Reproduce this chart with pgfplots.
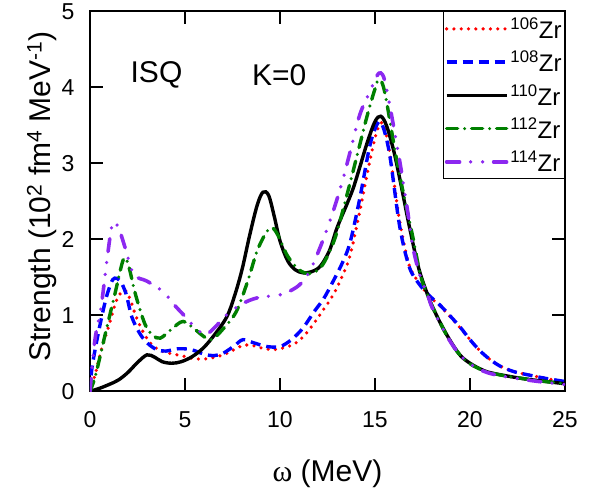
\documentclass[border=0pt]{standalone}
\usepackage{fontspec}
\setmainfont{Liberation Sans}
\newfontfamily\seriffont{Liberation Serif}
\usepackage{pgfplots}
\pgfplotsset{compat=1.18}

\definecolor{zrred}{RGB}{255,0,0}
\definecolor{zrblue}{RGB}{0,0,255}
\definecolor{zrgreen}{RGB}{0,128,0}
\definecolor{zrviolet}{RGB}{140,40,240}

\begin{document}
\begin{tikzpicture}
\begin{axis}[
    scale only axis,
    width=475pt, height=380pt,
    xmin=0, xmax=25,
    ymin=0, ymax=5,
    xtick={0,5,10,15,20,25},
    ytick={0,1,2,3,4,5},
    tick align=inside,
    major tick length=13pt,
    axis line style={line width=2pt},
    every tick/.style={black, line width=2pt},
    /pgf/number format/assume math mode=true,
    ticklabel style={font=\fontsize{23}{27}\selectfont},
    xticklabel style={yshift=-17pt},
    yticklabel style={xshift=-12pt},
    xlabel={{\seriffont ω} (MeV)},
    ylabel={Strength (10\textsuperscript{2} fm\textsuperscript{4} MeV\textsuperscript{-1})},
    label style={font=\fontsize{30}{36}\selectfont},
    xlabel style={at={(axis description cs:0.5,-0.216)}, anchor=center},
    ylabel style={at={(axis description cs:-0.101,0.513)}, anchor=center},
    legend style={at={(1,1)}, anchor=north east, draw=black, line width=0.8pt,
        font=\fontsize{24}{27}\selectfont, inner xsep=1pt, inner ysep=4pt,
        row sep=7pt, cells={anchor=west}},
    legend image code/.code={\draw[#1] (0pt,0pt) -- (60pt,0pt);},
    every axis plot/.append style={smooth, tension=0.55},
]

\addplot[zrred, line width=3.6pt, line cap=round, dash pattern=on 0pt off 7.3pt] coordinates {
    (0,0)(0.3,0.25)(0.6,0.55)(1.0,0.87)(1.4,1.2)(1.8,1.33)(2.1,1.22)(2.4,1.0)(2.8,0.78)(3.2,0.63)(3.6,0.55)(4.2,0.5)(4.8,0.47)(5.5,0.43)(6.2,0.43)(7.0,0.48)(7.6,0.55)(8.1,0.61)(8.6,0.6)(9.2,0.56)(9.7,0.55)(10.3,0.58)(10.8,0.63)(11.3,0.74)(11.8,0.9)(12.3,1.08)(12.8,1.27)(13.3,1.53)(13.7,1.80)(14.2,2.37)(14.7,3.0)(15.1,3.42)(15.4,3.53)(15.7,3.25)(16.0,2.75)(16.3,2.24)(16.8,1.66)(17.4,1.4)(17.9,1.24)(18.4,1.13)(19.0,0.97)(19.5,0.83)(20.0,0.68)(20.5,0.54)(21.0,0.43)(21.6,0.33)(22.3,0.26)(23,0.22)(24,0.17)(25,0.12)
};
\addlegendentry{\textsuperscript{106}Zr}

\addplot[zrblue, line width=3.4pt, dash pattern=on 10pt off 6pt] coordinates {
    (0,0)(0.1,0.3)(0.4,0.72)(0.8,1.18)(1.1,1.42)(1.3,1.49)(1.6,1.45)(1.9,1.28)(2.2,0.98)(2.6,0.77)(3.0,0.64)(3.5,0.55)(4.0,0.53)(4.6,0.56)(5.3,0.55)(6.0,0.49)(6.5,0.47)(7.0,0.5)(7.6,0.6)(8.05,0.68)(8.6,0.64)(9.3,0.59)(10.0,0.59)(10.6,0.68)(11.2,0.83)(11.8,1.05)(12.3,1.22)(12.8,1.45)(13.3,1.7)(13.7,1.97)(14.2,2.54)(14.7,3.2)(15.0,3.45)(15.25,3.55)(15.5,3.42)(15.8,3.07)(16.3,2.17)(16.8,1.64)(17.3,1.42)(17.9,1.25)(18.4,1.14)(19.0,0.98)(19.5,0.84)(20.0,0.68)(20.5,0.54)(21.0,0.43)(21.6,0.33)(22.3,0.26)(23,0.22)(24,0.17)(25,0.13)
};
\addlegendentry{\textsuperscript{108}Zr}

\addplot[black, line width=3.4pt] coordinates {
    (0,0)(0.5,0.04)(1.0,0.09)(1.5,0.15)(2.0,0.25)(2.5,0.38)(3.0,0.48)(3.4,0.45)(3.8,0.39)(4.3,0.37)(4.8,0.39)(5.4,0.46)(6.0,0.58)(6.6,0.76)(7.2,0.98)(7.6,1.25)(8.0,1.6)(8.4,2.05)(8.8,2.45)(9.1,2.62)(9.4,2.58)(9.7,2.3)(10.0,1.98)(10.4,1.72)(10.8,1.6)(11.2,1.56)(11.6,1.57)(12.1,1.64)(12.6,1.85)(13.0,2.15)(13.5,2.45)(13.85,2.67)(14.2,2.95)(14.6,3.28)(15.0,3.55)(15.3,3.62)(15.6,3.5)(16.0,3.15)(16.4,2.68)(16.8,2.18)(17.3,1.62)(17.8,1.25)(18.05,1.1)(18.5,0.87)(19.0,0.65)(19.5,0.47)(20.0,0.37)(20.5,0.3)(21.0,0.25)(22.0,0.2)(23.0,0.16)(24,0.13)(25,0.1)
};
\addlegendentry{\textsuperscript{110}Zr}

\addplot[zrgreen, line width=3.4pt, line cap=round, dash pattern=on 11pt off 7pt on 0pt off 7pt] coordinates {
    (0,0)(0.3,0.22)(0.8,0.75)(1.3,1.27)(1.75,1.73)(2.0,1.68)(2.4,1.27)(2.9,0.88)(3.3,0.74)(3.7,0.70)(4.3,0.82)(4.9,0.92)(5.5,0.82)(6.0,0.72)(6.4,0.68)(7.0,0.82)(7.7,1.05)(8.3,1.45)(8.8,1.85)(9.3,2.1)(9.6,2.15)(9.9,2.05)(10.4,1.78)(11.0,1.6)(11.6,1.55)(12.2,1.65)(12.8,1.95)(13.2,2.28)(13.85,2.9)(14.56,3.6)(15.0,3.98)(15.2,4.1)(15.5,3.95)(16.1,3.1)(16.5,2.6)(17.0,2.02)(17.4,1.52)(17.8,1.25)(18.05,1.1)(18.95,0.66)(19.8,0.4)(21,0.25)(23,0.16)(25,0.1)
};
\addlegendentry{\textsuperscript{112}Zr}

\addplot[zrviolet, line width=3.6pt, line cap=round, dash pattern=on 13pt off 11pt on 0pt off 12pt on 0pt off 11pt] coordinates {
    (0,0)(0.25,0.66)(0.6,1.14)(0.95,1.84)(1.2,2.22)(1.5,2.15)(1.85,1.89)(2.3,1.54)(3.0,1.45)(3.85,1.31)(4.5,1.12)(5.1,0.96)(5.6,0.82)(6.1,0.75)(6.6,0.85)(7.2,1.01)(8.0,1.15)(8.8,1.23)(10,1.27)(10.6,1.33)(11.1,1.42)(11.6,1.6)(12.2,1.95)(12.8,2.37)(13.3,2.78)(13.7,3.16)(14.2,3.64)(14.74,3.95)(15.1,4.15)(15.3,4.19)(15.5,4.1)(15.8,3.73)(16.3,3.03)(16.7,2.4)(17.0,1.89)(17.4,1.5)(17.8,1.25)(18.05,1.08)(18.95,0.66)(19.8,0.4)(21,0.24)(23,0.15)(25,0.09)
};
\addlegendentry{\textsuperscript{114}Zr}

\node[font=\fontsize{30}{36}\selectfont] at (axis cs:3.5,4.16) {ISQ};
\node[font=\fontsize{30}{36}\selectfont] at (axis cs:9.96,4.16) {K=0};
\end{axis}
\path[use as bounding box] (-90pt,-100pt) rectangle (505pt,390pt);
\end{tikzpicture}
\end{document}
